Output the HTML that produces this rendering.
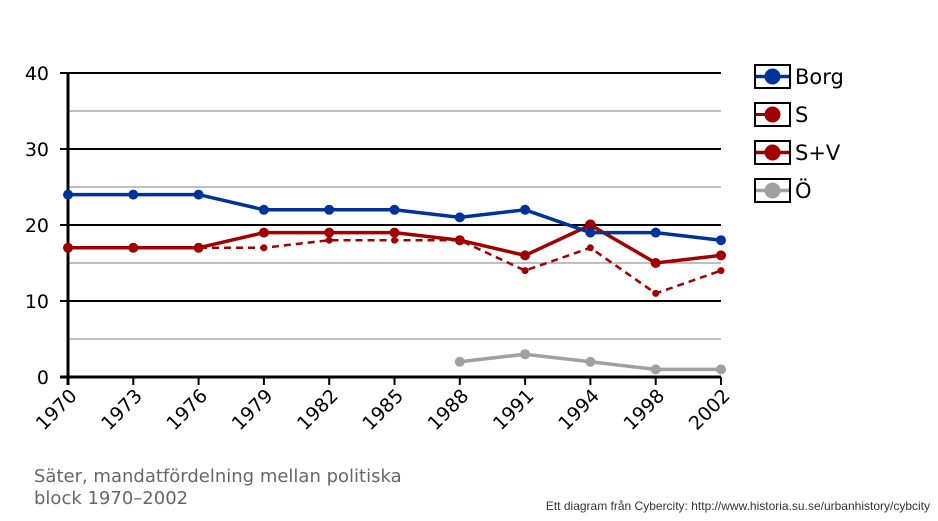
<!DOCTYPE html>
<html><head><meta charset="utf-8"><style>
html,body{margin:0;padding:0;background:#fff;width:938px;height:521px;overflow:hidden}
svg{display:block;font-family:"DejaVu Sans","Liberation Sans",sans-serif}
</style></head><body>
<svg width="938" height="521" viewBox="0 0 938 521">
<g stroke="#999" stroke-width="1.2">
<line x1="68" y1="339" x2="721" y2="339"/><line x1="68" y1="263" x2="721" y2="263"/>
<line x1="68" y1="187" x2="721" y2="187"/><line x1="68" y1="111" x2="721" y2="111"/>
</g>
<g stroke="#000" stroke-width="2">
<line x1="60" y1="301" x2="721" y2="301"/><line x1="60" y1="225" x2="721" y2="225"/>
<line x1="60" y1="149" x2="721" y2="149"/><line x1="60" y1="73" x2="721" y2="73"/>
<line x1="60" y1="377" x2="721" y2="377" stroke-width="3"/>
<line x1="68" y1="72" x2="68" y2="385" stroke-width="3"/>
<line x1="133.3" y1="377" x2="133.3" y2="385"/><line x1="198.6" y1="377" x2="198.6" y2="385"/>
<line x1="263.9" y1="377" x2="263.9" y2="385"/><line x1="329.2" y1="377" x2="329.2" y2="385"/>
<line x1="394.5" y1="377" x2="394.5" y2="385"/><line x1="459.8" y1="377" x2="459.8" y2="385"/>
<line x1="525.1" y1="377" x2="525.1" y2="385"/><line x1="590.4" y1="377" x2="590.4" y2="385"/>
<line x1="655.7" y1="377" x2="655.7" y2="385"/><line x1="721" y1="377" x2="721" y2="385"/>
</g>
<g font-size="19" text-anchor="end" fill="#000">
<text x="49" y="384">0</text><text x="49" y="308">10</text><text x="49" y="232">20</text>
<text x="49" y="156">30</text><text x="49" y="80">40</text>
</g>
<g font-size="19" text-anchor="end" fill="#000">
<text transform="translate(78,397) rotate(-45)">1970</text>
<text transform="translate(143.3,397) rotate(-45)">1973</text>
<text transform="translate(208.6,397) rotate(-45)">1976</text>
<text transform="translate(273.9,397) rotate(-45)">1979</text>
<text transform="translate(339.2,397) rotate(-45)">1982</text>
<text transform="translate(404.5,397) rotate(-45)">1985</text>
<text transform="translate(469.8,397) rotate(-45)">1988</text>
<text transform="translate(535.1,397) rotate(-45)">1991</text>
<text transform="translate(600.4,397) rotate(-45)">1994</text>
<text transform="translate(665.7,397) rotate(-45)">1998</text>
<text transform="translate(731,397) rotate(-45)">2002</text>
</g>
<polyline fill="none" stroke="#a00000" stroke-width="2.5" stroke-dasharray="7,5" points="68,247.8 133.3,247.8 198.6,247.8 263.9,247.8 329.2,240.2 394.5,240.2 459.8,240.2 525.1,270.6 590.4,247.8 655.7,293.4 721,270.6"/>
<g fill="#a00000">
<circle cx="68" cy="247.8" r="3.5"/><circle cx="133.3" cy="247.8" r="3.5"/><circle cx="198.6" cy="247.8" r="3.5"/><circle cx="263.9" cy="247.8" r="3.5"/><circle cx="329.2" cy="240.2" r="3.5"/><circle cx="394.5" cy="240.2" r="3.5"/><circle cx="459.8" cy="240.2" r="3.5"/><circle cx="525.1" cy="270.6" r="3.5"/><circle cx="590.4" cy="247.8" r="3.5"/><circle cx="655.7" cy="293.4" r="3.5"/><circle cx="721" cy="270.6" r="3.5"/>
</g>
<polyline fill="none" stroke="#a00000" stroke-width="3.5" points="68,247.8 133.3,247.8 198.6,247.8 263.9,232.6 329.2,232.6 394.5,232.6 459.8,240.2 525.1,255.4 590.4,225 655.7,263 721,255.4"/>
<g fill="#a00000">
<circle cx="68" cy="247.8" r="5"/><circle cx="133.3" cy="247.8" r="5"/><circle cx="198.6" cy="247.8" r="5"/><circle cx="263.9" cy="232.6" r="5"/><circle cx="329.2" cy="232.6" r="5"/><circle cx="394.5" cy="232.6" r="5"/><circle cx="459.8" cy="240.2" r="5"/><circle cx="525.1" cy="255.4" r="5"/><circle cx="590.4" cy="225" r="5.5"/><circle cx="655.7" cy="263" r="5"/><circle cx="721" cy="255.4" r="5"/>
</g>
<polyline fill="none" stroke="#003399" stroke-width="3.5" points="68,194.6 133.3,194.6 198.6,194.6 263.9,209.8 329.2,209.8 394.5,209.8 459.8,217.4 525.1,209.8 590.4,232.6 655.7,232.6 721,240.2"/>
<g fill="#003399">
<circle cx="68" cy="194.6" r="5"/><circle cx="133.3" cy="194.6" r="5"/><circle cx="198.6" cy="194.6" r="5"/><circle cx="263.9" cy="209.8" r="5"/><circle cx="329.2" cy="209.8" r="5"/><circle cx="394.5" cy="209.8" r="5"/><circle cx="459.8" cy="217.4" r="5"/><circle cx="525.1" cy="209.8" r="5"/><circle cx="590.4" cy="232.6" r="5"/><circle cx="655.7" cy="232.6" r="5"/><circle cx="721" cy="240.2" r="5"/>
</g>
<polyline fill="none" stroke="#a0a0a0" stroke-width="3.5" points="459.8,361.8 525.1,354.2 590.4,361.8 655.7,369.4 721,369.4"/>
<g fill="#a0a0a0">
<circle cx="459.8" cy="361.8" r="5"/><circle cx="525.1" cy="354.2" r="5"/><circle cx="590.4" cy="361.8" r="5"/><circle cx="655.7" cy="369.4" r="5"/><circle cx="721" cy="369.4" r="5"/>
</g>
<g stroke="#000" stroke-width="2" fill="#fff">
<rect x="755" y="65" width="35" height="23"/><rect x="755" y="103" width="35" height="23"/>
<rect x="755" y="141" width="35" height="23"/><rect x="755" y="179" width="35" height="23"/>
</g>
<line x1="756" y1="76.5" x2="789" y2="76.5" stroke="#003399" stroke-width="3.5"/><circle cx="772.5" cy="76.5" r="8" fill="#003399"/>
<line x1="756" y1="114.5" x2="765" y2="114.5" stroke="#a00000" stroke-width="3"/><circle cx="772.5" cy="114.5" r="8" fill="#a00000"/>
<line x1="756" y1="152.5" x2="789" y2="152.5" stroke="#a00000" stroke-width="3.5"/><circle cx="772.5" cy="152.5" r="8" fill="#a00000"/>
<line x1="756" y1="190.5" x2="789" y2="190.5" stroke="#a0a0a0" stroke-width="3.5"/><circle cx="772.5" cy="190.5" r="8" fill="#a0a0a0"/>
<g font-size="21" fill="#000">
<text x="795" y="84">Borg</text><text x="795" y="122">S</text><text x="795" y="160">S+V</text><text x="795" y="198">Ö</text>
</g>
<g font-size="18" fill="#666">
<text x="34" y="482">Säter, mandatfördelning mellan politiska</text>
<text x="34" y="504">block 1970–2002</text>
</g>
<text x="930" y="510" font-size="12" fill="#333" text-anchor="end" font-family="Liberation Sans,sans-serif">Ett diagram från Cybercity: http://www.historia.su.se/urbanhistory/cybcity</text>
</svg>
</body></html>
